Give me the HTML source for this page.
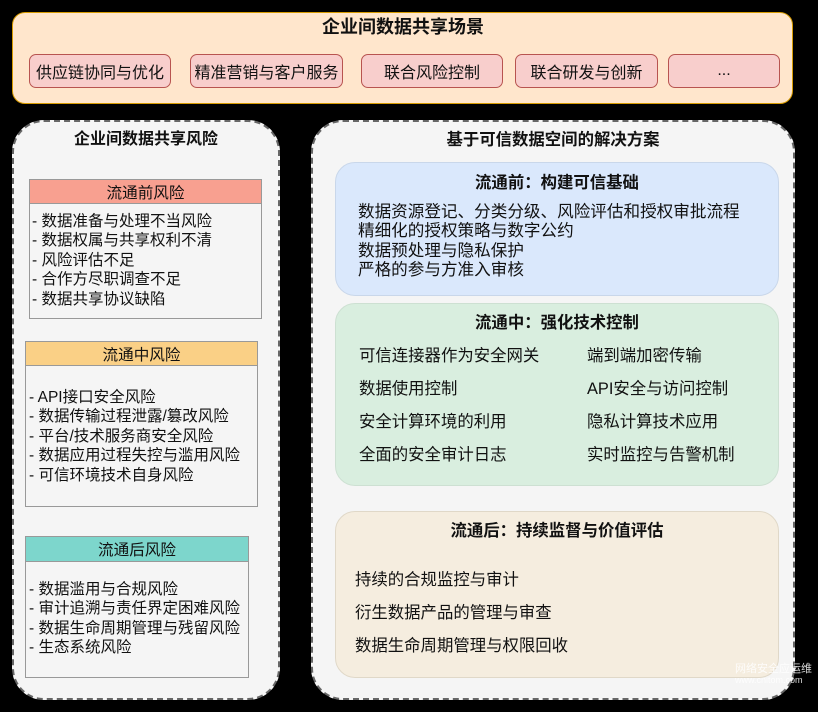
<!DOCTYPE html>
<html><head><meta charset="utf-8"><style>
body{margin:0;width:818px;height:712px;background:#000;position:relative;overflow:hidden;font-family:"Liberation Sans","Noto Sans CJK SC",sans-serif;color:#111}
div{position:absolute;box-sizing:border-box}
.t{white-space:nowrap;line-height:1}
.pill{top:54px;height:34px;background:#f8cecc;border:1px solid #b85450;border-radius:7px;font-size:16px;display:flex;align-items:center;justify-content:center}
.cont{background:#f5f5f5;border:2px dashed #666;border-radius:32px;top:120px;height:580px}
.hd{border:1px solid #999;font-size:15.6px;display:flex;align-items:center;justify-content:center}
.bd{border:1px solid #999;background:#f5f5f5}
.li{font-size:15.5px;line-height:19.4px;white-space:nowrap}
.rb{left:335px;width:444px;border-radius:20px}
.rt{font-size:16.4px;font-weight:bold;width:100%;text-align:center}
.r{font-size:16.4px;white-space:nowrap}
</style></head><body>
<div style="left:12px;top:12px;width:781px;height:92px;background:#ffe6cc;border:1px solid #d79b00;border-radius:13px"></div>
<div class="t" style="left:0;width:806px;text-align:center;top:18px;font-size:18px;font-weight:bold">企业间数据共享场景</div>
<div class="pill" style="left:29px;width:142px">供应链协同与优化</div>
<div class="pill" style="left:190px;width:153px">精准营销与客户服务</div>
<div class="pill" style="left:361px;width:142px">联合风险控制</div>
<div class="pill" style="left:515px;width:143px">联合研发与创新</div>
<div class="pill" style="left:668px;width:112px">...</div>

<div class="cont" style="left:12px;width:268px"></div>
<div class="t" style="left:12px;width:268px;text-align:center;top:132px;font-size:16px;font-weight:bold">企业间数据共享风险</div>
<div class="hd" style="left:29px;top:179px;width:233px;height:25px;background:#f8a090">流通前风险</div>
<div class="bd" style="left:29px;top:203px;width:233px;height:116px"></div>
<div class="li" style="left:32px;top:212px">- 数据准备与处理不当风险<br>- 数据权属与共享权利不清<br>- 风险评估不足<br>- 合作方尽职调查不足<br>- 数据共享协议缺陷</div>
<div class="hd" style="left:25px;top:341px;width:233px;height:25px;background:#fad086">流通中风险</div>
<div class="bd" style="left:25px;top:365px;width:233px;height:142px"></div>
<div class="li" style="left:29px;top:388px">- API接口安全风险<br>- 数据传输过程泄露/篡改风险<br>- 平台/技术服务商安全风险<br>- 数据应用过程失控与滥用风险<br>- 可信环境技术自身风险</div>
<div class="hd" style="left:25px;top:536px;width:224px;height:26px;background:#7dd6cc">流通后风险</div>
<div class="bd" style="left:25px;top:561px;width:224px;height:117px"></div>
<div class="li" style="left:29px;top:580px">- 数据滥用与合规风险<br>- 审计追溯与责任界定困难风险<br>- 数据生命周期管理与残留风险<br>- 生态系统风险</div>

<div class="cont" style="left:311px;width:484px"></div>
<div class="t" style="left:311px;width:484px;text-align:center;top:132px;font-size:16.4px;font-weight:bold">基于可信数据空间的解决方案</div>

<div class="rb" style="top:162px;height:134px;background:#dae8fc;border:1px solid #c9d7ea"></div>
<div class="t rt" style="left:335px;width:444px;top:175px">流通前：构建可信基础</div>
<div class="r" style="left:358px;top:202px;line-height:19.3px;font-size:16.6px">数据资源登记、分类分级、风险评估和授权审批流程<br>精细化的授权策略与数字公约<br>数据预处理与隐私保护<br>严格的参与方准入审核</div>

<div class="rb" style="top:303px;height:183px;background:#d9eedf;border:1px solid #cde0d2"></div>
<div class="t rt" style="left:335px;width:444px;top:315px">流通中：强化技术控制</div>
<div class="r t" style="left:359px;top:348px">可信连接器作为安全网关</div>
<div class="r t" style="left:587px;top:348px">端到端加密传输</div>
<div class="r t" style="left:359px;top:381px">数据使用控制</div>
<div class="r t" style="left:587px;top:381px">API安全与访问控制</div>
<div class="r t" style="left:359px;top:414px">安全计算环境的利用</div>
<div class="r t" style="left:587px;top:414px">隐私计算技术应用</div>
<div class="r t" style="left:359px;top:447px">全面的安全审计日志</div>
<div class="r t" style="left:587px;top:447px">实时监控与告警机制</div>

<div class="rb" style="top:511px;height:167px;background:#f5eddf;border:1px solid #e0d8c8"></div>
<div class="t rt" style="left:335px;width:444px;top:523px">流通后：持续监督与价值评估</div>
<div class="r t" style="left:355px;top:572px">持续的合规监控与审计</div>
<div class="r t" style="left:355px;top:605px">衍生数据产品的管理与审查</div>
<div class="r t" style="left:355px;top:638px">数据生命周期管理与权限回收</div>
<div class="t" style="left:735px;top:664px;font-size:11px;color:#fff;opacity:.85">网络安全应运维<br><span style="font-size:9px">www.cnitom.com</span></div>
</body></html>
